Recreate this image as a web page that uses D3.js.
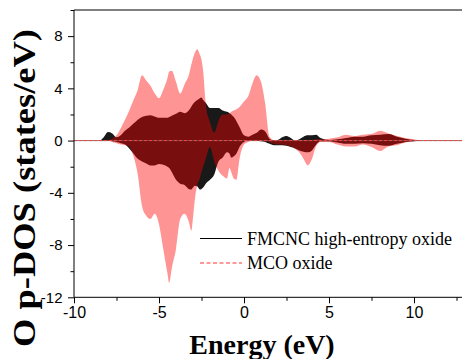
<!DOCTYPE html>
<html>
<head>
<meta charset="utf-8">
<script src="https://cdn.jsdelivr.net/npm/d3@7"></script>
<style>
  html, body { margin: 0; padding: 0; background: #ffffff; }
  svg { display: block; }
  .tick text { font-family: 'Liberation Sans', Arial, sans-serif; fill: #000; }
</style>
</head>
<body>
<div id="dos-viz"></div>
<script>
// Energy grid (eV) shared by all four curves
const energies = [
  -10, -8.5, -8.25, -8, -7.75, -7.5, -7.25, -7, -6.75, -6.5,
  -6.25, -6, -5.75, -5.5, -5.25, -5, -4.75, -4.5, -4.4, -4.25,
  -4, -3.75, -3.5, -3.25, -3.1, -3, -2.9, -2.75, -2.6, -2.5,
  -2.4, -2.25, -2, -1.75, -1.5, -1.25, -1, -0.85, -0.75, -0.6,
  -0.45, -0.25, 0, 0.25, 0.5, 0.75, 1, 1.25, 1.5, 1.75,
  2, 2.25, 2.5, 2.75, 3, 3.25, 3.5, 3.75, 4, 4.25,
  4.5, 5, 5.5, 6, 6.5, 7, 7.5, 8, 8.5, 9,
  9.5, 10, 10.5, 13,
];

// FMCNC high-entropy oxide, spin up / spin down
const fmcncUp = [
  0, 0, 0.25, 0.65, 0.55, 0.25, 0.4, 0.75, 1.0, 1.3,
  1.6, 1.8, 1.9, 1.95, 1.85, 1.75, 1.75, 1.75, 1.8, 1.9,
  2.05, 2.2, 2.1, 2.3, 2.6, 2.8, 2.95, 3.1, 3.25, 3.3,
  3.1, 2.9, 2.5, 2.5, 2.5, 2.3, 2.2, 2.1, 2.0, 1.8,
  1.5, 1.0, 0.4, 0.3, 0.45, 0.6, 0.85, 0.7, 0.15, 0,
  0.05, 0.25, 0.35, 0.2, 0, 0.1, 0.3, 0.4, 0.4, 0.45,
  0.2, 0.05, 0.1, 0.2, 0.3, 0.3, 0.4, 0.45, 0.5, 0.3,
  0.15, 0.05, 0, 0,
];
const fmcncDown = [
  0, 0, 0, 0, -0.05, -0.1, -0.2, -0.3, -0.6, -1.0,
  -1.4, -1.6, -1.75, -1.9, -1.9, -1.8, -1.85, -2.0, -2.1, -2.4,
  -3.0, -3.3, -3.4, -3.7, -3.75, -3.6, -3.45, -3.5, -3.75, -3.7,
  -3.6, -3.3, -3.0, -2.6, -1.6, -1.3, -0.9, -1.0, -1.3, -1.2,
  -1.0, -0.45, -0.1, 0, 0, -0.02, -0.05, -0.1, -0.25, -0.35,
  -0.35, -0.35, -0.4, -0.5, -0.6, -0.75, -0.85, -0.9, -0.75, -0.3,
  -0.05, -0.05, -0.15, -0.25, -0.25, -0.2, -0.25, -0.35, -0.4, -0.25,
  -0.1, -0.05, 0, 0,
];

// MCO oxide, spin up / spin down
const mcoUp = [
  0, 0, 0, 0.05, 0.15, 0.4, 0.95, 1.6, 2.3, 3.1,
  3.9, 5.0, 4.6, 4.2, 3.6, 3.25, 3.9, 4.8, 5.3, 5.35,
  4.5, 3.6, 4.3, 5.0, 5.8, 6.3, 6.7, 7.0, 6.6, 6.2,
  5.3, 2.8, 1.4, 0.6, 1.5, 2.0, 2.0, 2.1, 2.2, 2.3,
  2.4, 2.6, 3.0, 3.4, 4.4, 5.0, 4.5, 2.8, 0.3, 0.05,
  0, 0, 0, 0, 0, 0, 0.05, 0.05, 0.05, 0.1,
  0.1, 0.15, 0.25, 0.45, 0.35, 0.45, 0.5, 0.75, 0.55, 0.35,
  0.2, 0.1, 0, 0,
];
const mcoDown = [
  0, 0, 0, 0, -0.1, -0.2, -0.3, -0.35, -0.45, -1.2,
  -2.6, -5.0, -5.75, -6.0, -5.6, -6.4, -8.3, -10.2, -10.9, -9.8,
  -8.3, -6.0, -5.6, -6.2, -6.9, -5.9, -4.6, -3.4, -2.9, -2.4,
  -2.0, -1.4, -0.5, -1.6, -2.3, -2.7, -2.9, -2.1, -2.4, -2.9,
  -3.0, -1.3, -0.3, -0.1, 0, 0, 0, -0.05, -0.1, -0.25,
  -0.3, -0.3, -0.35, -0.45, -0.6, -0.9, -1.4, -1.9, -1.4, -0.4,
  -0.1, -0.1, -0.3, -0.45, -0.45, -0.3, -0.5, -0.8, -0.45, -0.35,
  -0.15, -0.05, 0, 0,
];

const xMajorTicks = [-10, -5, 0, 5, 10];
const xMinorTicks = [-7.5, -2.5, 2.5, 7.5, 12.5];
const yMajorTicks = [-12, -8, -4, 0, 4, 8];
const yMinorTicks = [-10, -6, -2, 2, 6, 10];
const legendLabels = ['FMCNC high-entropy oxide', 'MCO oxide'];
const xLabel = 'Energy (eV)';
const yLabel = 'O p-DOS (states/eV)';

const drawDosViz = (vizElement) => {
  const totalWidth = 462;
  const totalHeight = 359;
  const plot = { left: 74, right: 465, top: 10, bottom: 297.3 };

  const xScale = d3.scaleLinear().domain([-10, 13]).range([plot.left, plot.right]);
  const yScale = d3.scaleLinear().domain([-12, 10]).range([plot.bottom, plot.top]);

  const svg = d3
    .select(`#${vizElement}`)
    .append('svg')
    .attr('width', totalWidth)
    .attr('height', totalHeight);

  svg.append('rect')
    .attr('width', totalWidth)
    .attr('height', totalHeight)
    .attr('fill', '#ffffff');

  const toPoints = (values) => energies.map((e, i) => ({ e, v: values[i] }));

  const area = d3.area()
    .x((d) => xScale(d.e))
    .y0(yScale(0))
    .y1((d) => yScale(d.v))
    .curve(d3.curveMonotoneX);

  // FMCNC filled black, MCO translucent red on top
  [fmcncUp, fmcncDown].forEach((series) => {
    svg.append('path')
      .datum(toPoints(series))
      .attr('fill', '#191919')
      .attr('d', area);
  });
  [mcoUp, mcoDown].forEach((series) => {
    svg.append('path')
      .datum(toPoints(series))
      .attr('fill', '#ff0000')
      .attr('fill-opacity', 0.42)
      .attr('d', area);
  });

  // zero baselines of both curves
  svg.append('line')
    .attr('x1', xScale(-10)).attr('x2', xScale(13))
    .attr('y1', yScale(0)).attr('y2', yScale(0))
    .attr('stroke', '#555').attr('stroke-width', 0.8);
  svg.append('line')
    .attr('x1', xScale(-10)).attr('x2', xScale(13))
    .attr('y1', yScale(0)).attr('y2', yScale(0))
    .attr('stroke', '#ff4040').attr('stroke-width', 1)
    .attr('stroke-dasharray', '3,2');

  // top frame
  svg.append('line')
    .attr('x1', plot.left).attr('x2', plot.right)
    .attr('y1', plot.top).attr('y2', plot.top)
    .attr('stroke', '#000').attr('stroke-width', 1);

  // x axis
  svg.append('g')
    .attr('transform', `translate(0, ${plot.bottom})`)
    .call(d3.axisBottom(xScale).tickValues(xMinorTicks).tickSize(3.5).tickFormat(''))
    .call((g) => g.select('.domain').remove());
  svg.append('g')
    .attr('transform', `translate(0, ${plot.bottom})`)
    .call(d3.axisBottom(xScale).tickValues(xMajorTicks).tickSize(6).tickPadding(3)
      .tickFormat((t) => `${t}`))
    .call((g) => g.selectAll('text').attr('font-size', 16))
    .call((g) => g.select('.domain').attr('d', `M${plot.left},0H${plot.right}`));

  // y axis
  svg.append('g')
    .attr('transform', `translate(${plot.left}, 0)`)
    .call(d3.axisLeft(yScale).tickValues(yMinorTicks).tickSize(3.5).tickFormat(''))
    .call((g) => g.select('.domain').remove());
  svg.append('g')
    .attr('transform', `translate(${plot.left}, 0)`)
    .call(d3.axisLeft(yScale).tickValues(yMajorTicks).tickSize(6).tickPadding(5.5)
      .tickFormat((t) => `${t}`))
    .call((g) => g.selectAll('text').attr('font-size', 15))
    .call((g) => g.select('.domain').attr('d', `M0,${plot.top}V${plot.bottom}`));

  // axis titles
  svg.append('text')
    .attr('x', 262)
    .attr('y', 353.5)
    .attr('text-anchor', 'middle')
    .attr('font-family', "'Liberation Serif', 'Times New Roman', serif")
    .attr('font-weight', 'bold')
    .attr('font-size', 28)
    .text(xLabel);

  svg.append('text')
    .attr('transform', 'translate(35, 188) rotate(-90)')
    .attr('text-anchor', 'middle')
    .attr('font-family', "'Liberation Serif', 'Times New Roman', serif")
    .attr('font-weight', 'bold')
    .attr('font-size', 32)
    .attr('textLength', 318)
    .attr('lengthAdjust', 'spacingAndGlyphs')
    .text(yLabel);

  // legend
  const legend = svg.append('g').attr('transform', 'translate(200, 238.5)');
  legend.append('line')
    .attr('x1', 0).attr('x2', 42).attr('y1', 0).attr('y2', 0)
    .attr('stroke', '#000').attr('stroke-width', 1);
  legend.append('line')
    .attr('x1', 0).attr('x2', 42).attr('y1', 24.5).attr('y2', 24.5)
    .attr('stroke', '#ff3030').attr('stroke-width', 1)
    .attr('stroke-dasharray', '4,2.5');
  legend.selectAll('text.legend-label')
    .data(legendLabels)
    .join('text')
    .attr('class', 'legend-label')
    .attr('x', 47)
    .attr('y', (d, i) => 6 + i * 24.5)
    .attr('font-family', "'Liberation Serif', 'Times New Roman', serif")
    .attr('font-size', 18)
    .attr('fill', '#000')
    .text((d) => d);
};

drawDosViz('dos-viz');
</script>
</body>
</html>
